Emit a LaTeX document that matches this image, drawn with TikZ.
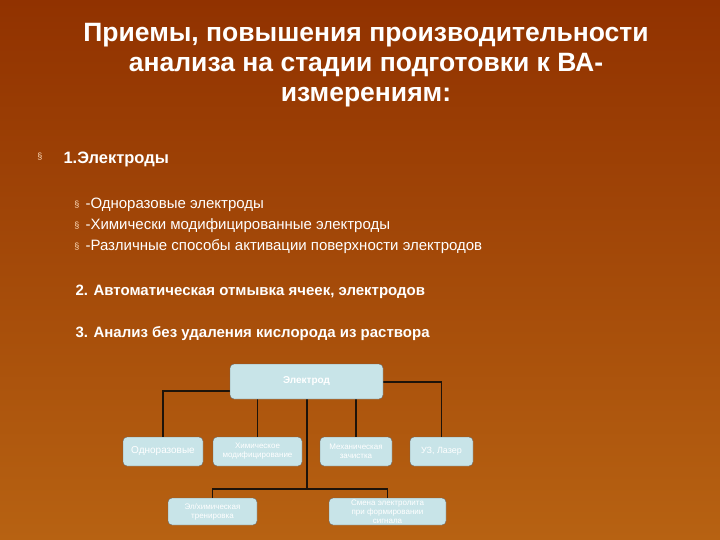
\documentclass[tikz,border=0pt]{standalone}
\usepackage{fontspec}
\setmainfont{Liberation Sans}
\begin{document}
\begin{tikzpicture}[x=1pt,y=-1pt,
 box/.style={draw=black!60,rounded corners=4pt,align=center,text=white,font=\fontsize{8}{9}\selectfont,inner sep=1pt},
 conn/.style={draw=black!85!brown,line width=1.5pt},
 bul/.style={text=white!75!orange,font=\fontsize{9}{9}\selectfont},
 txt/.style={anchor=west,text=white,font=\fontsize{15}{17}\selectfont}]
\definecolor{boxc}{HTML}{C8E4E8}
\shade[top color={rgb,255:red,145;green,50;blue,0},bottom color={rgb,255:red,183;green,98;blue,18}] (0,0) rectangle (720,540);
\useasboundingbox (0,0) rectangle (720,540);
\node[align=center,text=white,font=\bfseries\fontsize{26.5}{30}\selectfont] (title) at (366,65) {Приемы, повышения производительности\\анализа на стадии подготовки к ВА-\\измерениям:};
\node[bul] (b0) at (40,157) {§};
\node[txt,font=\bfseries\fontsize{16.5}{18}\selectfont] (t1) at (60,159) {1.Электроды};
\node[bul] (b1) at (77,205) {§};
\node[bul] (b2) at (77,226) {§};
\node[bul] (b3) at (77,247) {§};
\node[txt] (s1) at (82,205) {-Одноразовые электроды};
\node[txt] (s2) at (82,226) {-Химически модифицированные электроды};
\node[txt] (s3) at (82,247) {-Различные способы активации поверхности электродов};
\node[txt,font=\bfseries\fontsize{15}{17}\selectfont] (t2) at (72,292) {2. Автоматическая отмывка ячеек, электродов};
\node[txt,font=\bfseries\fontsize{15}{17}\selectfont] (t3) at (72,334) {3. Анализ без удаления кислорода из раствора};
\tikzset{box/.append style={fill=boxc}}
\coordinate (j) at (307,489);
\node[box,minimum width=80,minimum height=29,font=\fontsize{10}{11}\selectfont] (a) at (163,451.5) {Одноразовые};
\node[box,minimum width=89,minimum height=29] (b) at (257.5,451.5) {Химическое\\модифицирование};
\node[box,minimum width=72,minimum height=29] (c) at (356,451.5) {Механическая\\зачистка};
\node[box,minimum width=63,minimum height=29,font=\fontsize{9}{10}\selectfont] (d) at (441.5,451.5) {УЗ, Лазер};
\node[box,minimum width=89,minimum height=27] (f) at (212.5,511.5) {Эл/химическая\\тренировка};
\node[box,minimum width=117,minimum height=27] (g) at (387.5,511.5) {Смена электролита\\при формировании\\сигнала};
\draw[conn] (230,391) -| (a.north);
\draw[conn] (383,382) -| (d.north);
\draw[conn] (b.north) -- (257.5,399);
\draw[conn] (c.north) -- (356,399);
\draw[conn] (307,399) -- (j);
\draw[conn] (j) -| (f.north);
\draw[conn] (j) -| (g.north);
\node[box,minimum width=153,minimum height=35,font=\bfseries\fontsize{10}{11}\selectfont] (e) at (306.5,381.5) {Электрод};
\end{tikzpicture}
\end{document}
